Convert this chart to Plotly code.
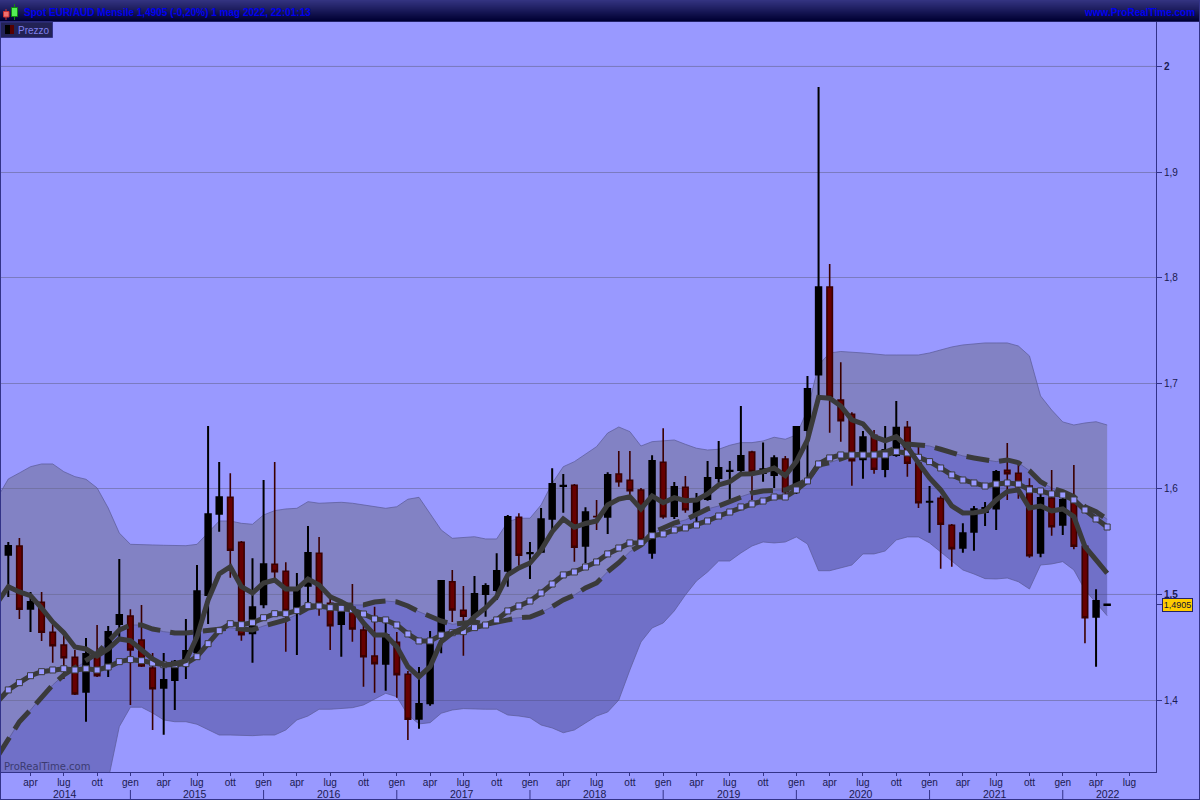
import plotly.graph_objects as go

# ---------- data (EUR/AUD monthly, Feb 2014 .. May 2022) ----------
opens = [1.5377,1.5459,1.4866,1.4926,1.4642,1.4522,1.4405,1.4080,1.4408,1.4332,
1.4721,1.4796,1.4569,1.4304,1.4117,1.4190,1.4351,1.4455,1.4995,1.5765,
1.5920,1.5494,1.4633,1.4907,1.5286,1.5220,1.4863,1.5083,1.5390,1.4917,
1.4721,1.4872,1.4664,1.4418,1.4345,1.4547,1.4244,1.3824,1.3970,1.4633,
1.5121,1.4850,1.4799,1.5005,1.5043,1.5225,1.5731,1.5390,1.5405,1.5718,
1.6028,1.6034,1.5462,1.5738,1.5737,1.6141,1.6081,1.5990,1.5396,1.6252,
1.5743,1.6015,1.5772,1.5904,1.6103,1.6170,1.6179,1.6349,1.6151,1.6132,
1.6283,1.5990,1.6558,1.7082,1.7912,1.6842,1.6707,1.6280,1.6508,1.6189,
1.6321,1.6583,1.6242,1.5877,1.5911,1.5655,1.5443,1.5595,1.5781,1.5813,
1.6176,1.6148,1.6027,1.5396,1.5914,1.5661,1.5888,1.5456,1.4790,1.4900]
closes = [1.5459,1.4860,1.4929,1.4642,1.4515,1.4401,1.4058,1.4437,1.4231,1.4645,
1.4806,1.4474,1.4323,1.4108,1.4190,1.4364,1.4465,1.5030,1.5759,1.5920,
1.5419,1.4619,1.4879,1.5286,1.5216,1.4847,1.5062,1.5393,1.4917,1.4705,
1.4872,1.4673,1.4411,1.4345,1.4616,1.4241,1.3818,1.3963,1.4560,1.5128,
1.4853,1.4794,1.5005,1.5080,1.5223,1.5734,1.5371,1.5393,1.5712,1.6046,
1.6030,1.5447,1.5778,1.5737,1.6132,1.6068,1.5983,1.5516,1.6264,1.5737,
1.6018,1.5803,1.5885,1.6103,1.6198,1.6172,1.6312,1.6163,1.6186,1.6290,
1.5974,1.6586,1.6946,1.7909,1.6870,1.6646,1.6267,1.6489,1.6186,1.6368,
1.6580,1.6242,1.5869,1.5879,1.5665,1.5434,1.5580,1.5807,1.5819,1.6160,
1.6144,1.6021,1.5367,1.5914,1.5642,1.5895,1.5456,1.4780,1.4938,1.4905]
highs = [1.5497,1.5535,1.5024,1.5024,1.4749,1.4607,1.4474,1.4588,1.4711,1.4702,
1.5336,1.4860,1.4901,1.4446,1.4446,1.4380,1.4768,1.5279,1.6596,1.6255,
1.6148,1.5507,1.5343,1.6084,1.6255,1.5305,1.5204,1.5649,1.5545,1.4967,
1.4920,1.5099,1.4711,1.4884,1.4730,1.4645,1.4276,1.4313,1.4654,1.5137,
1.5232,1.5080,1.5175,1.5106,1.5390,1.5753,1.5769,1.5497,1.5819,1.6195,
1.6141,1.6046,1.5826,1.5895,1.6157,1.6359,1.6359,1.6009,1.6318,1.6574,
1.6065,1.6122,1.5961,1.6264,1.6454,1.6264,1.6785,1.6362,1.6438,1.6318,
1.6312,1.6596,1.7069,1.9806,1.8130,1.7199,1.6725,1.6548,1.6558,1.6596,
1.6832,1.6643,1.6425,1.6027,1.5936,1.5668,1.5674,1.5838,1.5876,1.6179,
1.6435,1.6242,1.6100,1.5961,1.6179,1.5942,1.6226,1.5459,1.5049,1.4905]
lows = [1.4976,1.4768,1.4645,1.4560,1.4354,1.4200,1.4048,1.3795,1.4219,1.4219,
1.4588,1.3954,1.4313,1.3717,1.3672,1.3906,1.4200,1.4450,1.4721,1.5595,
1.5159,1.4562,1.4354,1.4869,1.5153,1.4458,1.4427,1.4926,1.4799,1.4474,
1.4411,1.4553,1.4127,1.4070,1.4089,1.4023,1.3622,1.3729,1.3947,1.4443,
1.4740,1.4420,1.4730,1.4790,1.4948,1.5074,1.5273,1.5147,1.5402,1.5611,
1.5775,1.5311,1.5295,1.5611,1.5573,1.6021,1.5942,1.5488,1.5339,1.5718,
1.5715,1.5775,1.5677,1.5888,1.6059,1.5895,1.6160,1.5895,1.6068,1.6009,
1.5952,1.5952,1.6084,1.6889,1.6532,1.6447,1.6030,1.6097,1.6144,1.6110,
1.6305,1.6116,1.5819,1.5585,1.5244,1.5263,1.5396,1.5415,1.5649,1.5611,
1.5895,1.5907,1.5348,1.5352,1.5557,1.5563,1.5428,1.4538,1.4316,1.4900]

# overlays start one month before the first candle
ma_fast = [1.4920,1.5074,1.5024,1.4989,1.4872,1.4740,1.4638,1.4503,1.4484,1.4418,1.4484,
1.4579,1.4562,1.4474,1.4389,1.4332,1.4342,1.4373,1.4598,1.4948,1.5194,
1.5263,1.5074,1.5014,1.5109,1.5137,1.5052,1.5052,1.5147,1.5090,1.4979,
1.4932,1.4872,1.4730,1.4616,1.4616,1.4506,1.4316,1.4219,1.4316,1.4553,
1.4635,1.4683,1.4790,1.4872,1.4979,1.5185,1.5251,1.5298,1.5421,1.5595,
1.5715,1.5636,1.5672,1.5696,1.5848,1.5904,1.5926,1.5810,1.5933,1.5869,
1.5917,1.5888,1.5895,1.5952,1.6037,1.6068,1.6141,1.6144,1.6163,1.6198,
1.6125,1.6258,1.6463,1.6867,1.6858,1.6785,1.6653,1.6615,1.6494,1.6456,
1.6494,1.6397,1.6245,1.6103,1.5990,1.5838,1.5772,1.5775,1.5791,1.5895,
1.5974,1.5990,1.5819,1.5838,1.5791,1.5810,1.5737,1.5453,1.5327,1.5201]
ma_square = [1.3982,1.4096,1.4165,1.4231,1.4269,1.4285,1.4297,1.4285,1.4297,1.4285,1.4313,
1.4364,1.4383,1.4373,1.4351,1.4335,1.4335,1.4345,1.4411,1.4534,1.4657,
1.4723,1.4714,1.4733,1.4780,1.4818,1.4818,1.4847,1.4894,1.4891,1.4875,
1.4869,1.4856,1.4815,1.4768,1.4759,1.4711,1.4626,1.4560,1.4560,1.4616,
1.4638,1.4648,1.4686,1.4711,1.4759,1.4844,1.4891,1.4938,1.5014,1.5099,
1.5185,1.5213,1.5260,1.5308,1.5384,1.5440,1.5488,1.5491,1.5557,1.5573,
1.5611,1.5630,1.5658,1.5696,1.5743,1.5781,1.5829,1.5857,1.5885,1.5923,
1.5923,1.5990,1.6075,1.6236,1.6293,1.6321,1.6321,1.6321,1.6321,1.6321,
1.6352,1.6340,1.6299,1.6258,1.6198,1.6132,1.6084,1.6056,1.6027,1.6046,
1.6056,1.6046,1.5990,1.5980,1.5952,1.5942,1.5895,1.5800,1.5715,1.5639]
band_mid = [1.3461,1.3622,1.3795,1.3906,1.4032,1.4143,1.4238,1.4304,1.4364,1.4443,1.4553,
1.4664,1.4711,1.4711,1.4673,1.4648,1.4635,1.4635,1.4648,1.4657,1.4673,
1.4683,1.4673,1.4664,1.4702,1.4727,1.4759,1.4811,1.4872,1.4891,1.4901,
1.4901,1.4901,1.4901,1.4929,1.4938,1.4929,1.4891,1.4837,1.4790,1.4749,
1.4718,1.4730,1.4740,1.4718,1.4742,1.4768,1.4780,1.4787,1.4828,1.4884,
1.4948,1.4995,1.5062,1.5109,1.5216,1.5301,1.5405,1.5469,1.5582,1.5630,
1.5677,1.5706,1.5753,1.5810,1.5838,1.5879,1.5926,1.5961,1.5980,1.5990,
1.5990,1.6037,1.6084,1.6226,1.6248,1.6283,1.6321,1.6330,1.6330,1.6349,
1.6385,1.6425,1.6416,1.6406,1.6375,1.6340,1.6312,1.6293,1.6274,1.6258,
1.6274,1.6248,1.6172,1.6068,1.6009,1.5974,1.5926,1.5831,1.5784,1.5712]
band_upper = [1.5914,1.6094,1.6151,1.6210,1.6236,1.6236,1.6163,1.6116,1.6091,1.6009,1.5819,
1.5582,1.5475,1.5475,1.5469,1.5466,1.5462,1.5462,1.5475,1.5582,1.5696,
1.5696,1.5674,1.5665,1.5753,1.5794,1.5810,1.5816,1.5879,1.5864,1.5869,
1.5873,1.5864,1.5848,1.5831,1.5816,1.5831,1.5902,1.5920,1.5769,1.5611,
1.5532,1.5538,1.5547,1.5526,1.5526,1.5689,1.5722,1.5722,1.5848,1.6053,
1.6210,1.6258,1.6330,1.6400,1.6529,1.6586,1.6542,1.6406,1.6447,1.6454,
1.6463,1.6422,1.6385,1.6368,1.6375,1.6413,1.6438,1.6438,1.6454,1.6489,
1.6470,1.6511,1.6747,1.7173,1.7287,1.7301,1.7297,1.7287,1.7278,1.7268,
1.7268,1.7268,1.7268,1.7287,1.7315,1.7344,1.7363,1.7372,1.7382,1.7382,
1.7382,1.7353,1.7259,1.6880,1.6747,1.6634,1.6605,1.6624,1.6636,1.6605]
band_lower = [1.1046,1.1150,1.1444,1.1605,1.1832,1.2050,1.2315,1.2495,1.2637,1.2874,1.3243,
1.3748,1.3932,1.3932,1.3878,1.3812,1.3795,1.3795,1.3771,1.3723,1.3669,
1.3669,1.3663,1.3663,1.3669,1.3669,1.3717,1.3812,1.3849,1.3913,1.3913,
1.3919,1.3928,1.3954,1.4008,1.4064,1.4032,1.3859,1.3774,1.3786,1.3875,
1.3906,1.3919,1.3913,1.3913,1.3913,1.3859,1.3849,1.3833,1.3764,1.3736,
1.3691,1.3717,1.3783,1.3849,1.3887,1.4000,1.4285,1.4550,1.4683,1.4730,
1.4844,1.4995,1.5128,1.5213,1.5317,1.5317,1.5393,1.5459,1.5497,1.5488,
1.5497,1.5545,1.5478,1.5225,1.5225,1.5251,1.5279,1.5384,1.5384,1.5412,
1.5516,1.5545,1.5545,1.5488,1.5402,1.5311,1.5232,1.5194,1.5150,1.5147,
1.5156,1.5121,1.5052,1.5279,1.5289,1.5311,1.5232,1.5043,1.4920,1.4799]

month_labels = ["apr","lug","ott","gen"]*8 + ["apr","lug"]
year_labels = ["2014","2015","2016","2017","2018","2019","2020","2021","2022"]
year_centres = [5.1,16.8,28.9,40.9,52.9,64.9,76.8,88.9,99.1]
price_ticks = [1.4,1.5,1.6,1.7,1.8,1.9,2.0]
price_text = ["1,4","<b>1,5</b>","1,6","1,7","1,8","1,9","<b>2</b>"]
last_price = 1.4905

# ---------- layout constants ----------
W, H = 1200, 800
PL, PR, PT, PB = 0, 1156, 22, 772
XR = [-0.748, 103.4]
YR = [1.3319, 2.0421]
BG = "#9999FF"
EDGE = "#333388"
DARK = "#3A3A3A"
INK = "#1A1A50"

idx = list(range(100))
idx_ext = list(range(-1, 100))
month_pos = list(range(2, 102, 3))
year_starts = list(range(11, 100, 12))

px = lambda v: (v - PL) / (PR - PL)
py = lambda v: (PB - v) / (PB - PT)

fig = go.Figure()

# bands (base axes, under the candles)
fig.add_trace(go.Scatter(x=idx_ext, y=band_upper, mode="lines",
                         line=dict(color="rgba(90,90,150,0.7)", width=1), hoverinfo="skip"))
fig.add_trace(go.Scatter(x=idx_ext, y=band_mid, mode="lines", fill="tonexty",
                         fillcolor="rgba(107,107,137,0.5)",
                         line=dict(color="rgba(90,90,150,0.8)", width=1), hoverinfo="skip"))
fig.add_trace(go.Scatter(x=idx_ext, y=band_lower, mode="lines", fill="tonexty",
                         fillcolor="rgba(71,71,145,0.5)",
                         line=dict(color="rgba(90,90,150,0.7)", width=1), hoverinfo="skip"))

# candles (second overlay)
fig.add_trace(go.Candlestick(x=idx, open=opens, high=highs, low=lows, close=closes,
                             xaxis="x2", yaxis="y2", whiskerwidth=0,
                             increasing=dict(fillcolor="#000000", line=dict(color="#000000", width=2)),
                             decreasing=dict(fillcolor="#660000", line=dict(color="#3A0000", width=1.6)),
                             hoverinfo="skip"))

# moving averages (third overlay)
fig.add_trace(go.Scatter(x=idx_ext, y=band_mid, mode="lines", xaxis="x3", yaxis="y3",
                         line=dict(color=DARK, width=5, dash="23px,10px"), hoverinfo="skip"))
fig.add_trace(go.Scatter(x=idx_ext, y=ma_square, mode="lines+markers", xaxis="x3", yaxis="y3",
                         line=dict(color=DARK, width=5),
                         marker=dict(symbol="square", size=6, color=BG, line=dict(color=DARK, width=1)),
                         hoverinfo="skip"))
fig.add_trace(go.Scatter(x=idx_ext, y=ma_fast, mode="lines", xaxis="x3", yaxis="y3",
                         line=dict(color=DARK, width=5), hoverinfo="skip"))

shapes = []
def rect(x0, y0, x1, y1, fill, line=None, lw=0):
    shapes.append(dict(type="rect", xref="paper", yref="paper", x0=px(x0), x1=px(x1),
                       y0=py(y0), y1=py(y1), fillcolor=fill,
                       line=dict(color=line or fill, width=lw)))
def seg(x0, y0, x1, y1, color, lw=1):
    shapes.append(dict(type="line", xref="paper", yref="paper", x0=px(x0), x1=px(x1),
                       y0=py(y0), y1=py(y1), line=dict(color=color, width=lw)))

# darker reference lines at the bold ticks
for level in (1.5, 2.0):
    shapes.append(dict(type="line", xref="paper", yref="y", x0=0, x1=1, y0=level, y1=level,
                       layer="below", line=dict(color="#5A5A90", width=1)))

# header gradient
for row in range(21):
    t = row / 20
    rect(0, row, 1200, row + 1, f"rgb({round(51*(1-t))},{round(51*(1-t))},{round(128-77*t)})")
rect(0, 21, 1200, 22, "#222266")

# header icons
seg(6, 9, 6, 20, "#CC3333", 1)
rect(3.5, 11.5, 9, 17, "#F07070", "#CC3333", 1)
seg(14.5, 4, 14.5, 20, "#118811", 1)
rect(11.5, 7.5, 17.5, 16.5, "#55EE55", "#118811", 1)

# legend chip
rect(0, 22, 52.5, 37.5, "#222255", EDGE, 1)
rect(5, 25, 10, 34, "#000000")
rect(10, 25, 14, 34, "#550000")

# frame
seg(0.5, 22, 0.5, 800, EDGE, 1)
seg(1199.5, 0, 1199.5, 800, EDGE, 1)
seg(0, 799.5, 1200, 799.5, EDGE, 1)

# year separators below the month row
for i in year_starts:
    shapes.append(dict(type="line", xref="x", yref="paper", x0=i, x1=i,
                       y0=py(790), y1=py(799), line=dict(color=EDGE, width=1)))

# tick for the last price
shapes.append(dict(type="line", xref="paper", yref="y", x0=1, x1=px(1162),
                   y0=last_price, y1=last_price, line=dict(color=EDGE, width=1)))

annotations = [
    dict(text="<b>Spot EUR/AUD Mensile 1,4905 (-0,20%) 1 mag 2022, 22:01:13</b>", xref="paper", yref="paper",
         x=px(22), y=py(12.5), xanchor="left", yanchor="middle", showarrow=False,
         font=dict(family="Liberation Sans", size=10, color="#0000EE")),
    dict(text="<b>www.ProRealTime.com</b>", xref="paper", yref="paper", x=px(1197), y=py(12.5),
         xanchor="right", yanchor="middle", showarrow=False,
         font=dict(family="Liberation Sans", size=10, color="#0000EE")),
    dict(text="Prezzo", xref="paper", yref="paper", x=px(16), y=py(30), xanchor="left", yanchor="middle",
         showarrow=False, font=dict(family="Liberation Sans", size=10, color="#8080EE")),
    dict(text="ProRealTime.com", xref="paper", yref="paper", x=px(2), y=py(766.5), xanchor="left",
         yanchor="middle", showarrow=False, font=dict(family="DejaVu Sans", size=10, color="#3B3B70")),
    dict(text=f"{last_price:.4f}".replace(".", ","), xref="paper", yref="y", x=px(1162), y=last_price,
         xanchor="left", yanchor="middle", showarrow=False, bgcolor="#FFCC00",
         bordercolor="#222266", borderwidth=1, borderpad=0, width=29, height=12,
         font=dict(family="Liberation Sans", size=9, color="#111133")),
]
for label, pos in zip(year_labels, year_centres):
    annotations.append(dict(text=label, xref="x", yref="paper", x=pos, y=py(793.5), xanchor="center",
                            yanchor="middle", showarrow=False,
                            font=dict(family="Liberation Sans", size=10.5, color=INK)))

hidden_x = dict(range=XR, visible=False, overlaying="x", rangeslider=dict(visible=False), fixedrange=True)
hidden_y = dict(range=YR, visible=False, side="right", fixedrange=True)

fig.update_layout(
    width=W, height=H, showlegend=False,
    paper_bgcolor=BG, plot_bgcolor=BG,
    margin=dict(l=PL, r=W - PR, t=PT, b=H - PB, pad=0),
    boxgap=0.3,
    xaxis=dict(range=XR, tickmode="array", tickvals=month_pos, ticktext=month_labels, ticks="outside",
               ticklen=3, tickcolor=EDGE, showgrid=False, zeroline=False, showline=True, linecolor=EDGE,
               linewidth=1, tickfont=dict(family="Liberation Sans", size=10, color=INK),
               ticklabelstandoff=-2,
               rangeslider=dict(visible=False), fixedrange=True, anchor="y"),
    yaxis=dict(range=YR, side="right", tickmode="array", tickvals=price_ticks, ticktext=price_text,
               ticks="outside", ticklen=5, tickcolor=EDGE, showgrid=True, gridcolor="#7B7BC0", gridwidth=1,
               zeroline=False, showline=True, linecolor=EDGE, linewidth=1,
               tickfont=dict(family="Liberation Sans", size=10, color=INK), fixedrange=True, anchor="x"),
    xaxis2=dict(hidden_x, anchor="y2"),
    yaxis2=dict(hidden_y, overlaying="y", anchor="x2"),
    xaxis3=dict(hidden_x, anchor="y3"),
    yaxis3=dict(hidden_y, overlaying="y", anchor="x3"),
    shapes=shapes, annotations=annotations,
)

assert all(len(a) == 100 for a in (opens, closes, highs, lows))
assert all(len(a) == 101 for a in (ma_fast, ma_square, band_mid, band_upper, band_lower))

fig.write_html("out.html", config=dict(displayModeBar=False),
               post_script="document.body.style.margin='0';document.body.style.overflow='hidden';")
